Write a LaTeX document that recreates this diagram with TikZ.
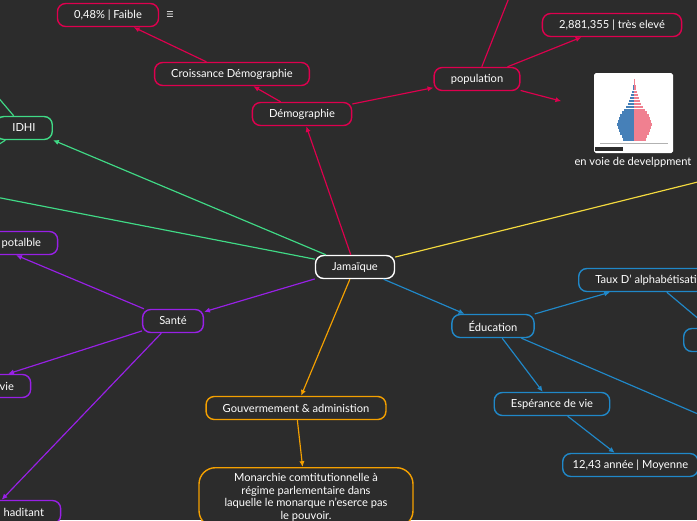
\documentclass[tikz,border=0pt]{standalone}
\usepackage{fontspec}
\setmainfont{Lato}
\newfontfamily\symfont{DejaVu Sans}
\usepackage{xcolor}
\definecolor{mapbg}{RGB}{44,44,44}
\definecolor{mapred}{RGB}{222,0,78}
\definecolor{mapgreen}{RGB}{64,218,134}
\definecolor{mappurple}{RGB}{152,32,230}
\definecolor{mapblue}{RGB}{32,136,200}
\definecolor{maporange}{RGB}{244,160,0}
\definecolor{mapyellow}{RGB}{244,218,62}
\definecolor{pyrblue}{RGB}{70,128,184}
\definecolor{pyrpink}{RGB}{240,128,144}
\usetikzlibrary{arrows.meta, positioning}

\tikzset{
  mapnode/.style={draw=#1, line width=1.2pt, rounded corners=7pt, fill=mapbg,
    text=white, minimum height=0.69cm, inner xsep=0.5cm, inner ysep=0.18cm,
    font=\fontsize{9.5}{10.6}\selectfont},
  maplink/.style={draw=#1, line width=1pt, -{Latex[length=5pt,width=4.5pt]}},
  mapline/.style={draw=#1, line width=1pt},
}

\begin{document}
\begin{tikzpicture}[x=0.03cm, y=-0.03cm]
\useasboundingbox (0,0) rectangle (697,520);
\fill[mapbg] (0,0) rectangle (697,520);

% --- central topic ---
\node[mapnode=white] (jam) at (355,267) {Jamaïque};

% --- Démographie branch ---
\node[mapnode=mapred] (demo) at (302,114) {Démographie};
\node[mapnode=mapred] (crois) at (232,74) {Croissance Démographie};
\node[mapnode=mapred] (croisval) at (108,15) {0,48\% | Faible};
\node[text=white, font=\symfont\fontsize{7}{8}\selectfont] (croisnote) at (170,15) {☰};
\node[mapnode=mapred] (pop) at (477,79) {population};
\node[mapnode=mapred] (popval) at (612,25) {2,881,355 | très elevé};
\coordinate (popup) at (516,-20);

% population pyramid picture
\node[minimum width=4.29cm, minimum height=3.12cm, inner sep=0] (pyrbox) at (633,120) {};
\fill[white, rounded corners=1.5pt] (594,73) rectangle (673,153);
\foreach \w [count=\i] in {0.5,0.5,1,1.5,2,3,4,5,6.5,8,10,12,14,15.5,16.5,17,16,15,14,12.5,11.5}{
  \pgfmathsetmacro{\ytop}{79+(\i-1)*2.95}
  \fill[pyrblue] ({634-\w},\ytop) rectangle (634,{\ytop+2.6});
  \fill[pyrpink] (634,\ytop) rectangle ({634+\w+0.5},{\ytop+2.6});
}
\draw[gray!60, line width=0.2pt] (600,143) -- (668,143);
\fill[mapbg] (595,147) rectangle (623,150.5);
\node[text=white, font=\fontsize{9.5}{11}\selectfont] (pyrlabel) at (633,162) {en voie de develppment};

\draw[maplink=mapred] (jam) -- (demo);
\draw[maplink=mapred] (demo) -- (crois);
\draw[maplink=mapred] (crois) -- (croisval);
\draw[maplink=mapred] (demo) -- (pop);
\draw[maplink=mapred] (pop) -- (popval);
\draw[maplink=mapred] (pop) -- (pyrbox);
\draw[mapline=mapred] (pop) -- (popup);

% --- IDHI branch ---
\node[mapnode=mapgreen] (idhi) at (24,128) {IDHI};
\coordinate (idhiup) at (-20,76);
\coordinate (idhidown) at (-25,160);
\coordinate (greenoff) at (-30,192);
\draw[maplink=mapgreen] (jam) -- (idhi);
\draw[mapline=mapgreen] (jam) -- (greenoff);
\draw[mapline=mapgreen] (idhi) -- (idhiup);
\draw[mapline=mapgreen] (idhi) -- (idhidown);

% --- Santé branch ---
\node[mapnode=mappurple] (sante) at (173,321) {Santé};
\node[mapnode=mappurple, text width=3.24cm, align=right] (eau) at (-13,243) {potalble};
\node[mapnode=mappurple, text width=2.64cm, align=right] (vie) at (-30,386) {vie};
\node[mapnode=mappurple, text width=3.24cm, align=right] (hab) at (-10,512) {haditant};
\draw[maplink=mappurple] (jam) -- (sante);
\draw[maplink=mappurple] (sante) -- (eau);
\draw[maplink=mappurple] (sante) -- (vie);
\draw[maplink=mappurple] (sante) -- (hab);

% --- Gouvernement branch ---
\node[mapnode=maporange] (gouv) at (296,408) {Gouvermement \& administion};
\node[mapnode=maporange, rounded corners=14pt, anchor=north, align=center,
      minimum width=6.42cm] (monar) at (306,467)
      {Monarchie comtitutionnelle à\\régime parlementaire dans\\laquelle le monarque n’eserce pas\\le pouvoir.};
\draw[maplink=maporange] (jam) -- (gouv);
\draw[maplink=maporange] (gouv) -- (monar);

% --- Éducation branch ---
\node[mapnode=mapblue] (edu) at (493,326) {Éducation};
\node[mapnode=mapblue, anchor=west] (alpha) at (578,280) {Taux D’ alphabétisation};
\node[mapnode=mapblue, anchor=west, minimum width=2.4cm] (alphasub) at (683,340) {};
\node[mapnode=mapblue] (esp) at (552,404) {Espérance de vie};
\node[mapnode=mapblue, anchor=west, inner xsep=0.3cm] (espval) at (562,465) {12,43 année | Moyenne};
\coordinate (eduoff) at (740,432);
\draw[maplink=mapblue] (jam) -- (edu);
\draw[maplink=mapblue] (edu) -- (alpha);
\draw[maplink=mapblue] (alpha) -- (alphasub);
\draw[maplink=mapblue] (edu) -- (esp);
\draw[maplink=mapblue] (esp) -- (espval);
\draw[mapline=mapblue] (edu) -- (eduoff);

% --- off-page branch ---
\coordinate (yellowoff) at (730,174);
\draw[mapline=mapyellow] (jam) -- (yellowoff);

\end{tikzpicture}
\end{document}
